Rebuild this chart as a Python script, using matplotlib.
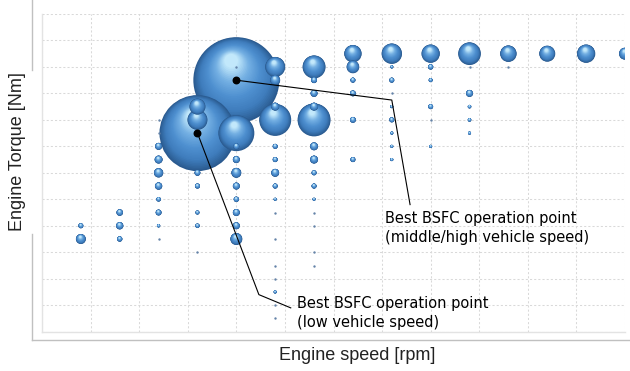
import matplotlib
matplotlib.use("Agg")
import matplotlib.pyplot as plt
import numpy as np
from matplotlib.colors import LinearSegmentedColormap
from matplotlib.lines import Line2D

# engine speed [rpm], engine torque [Nm], operating frequency (bubble area)
speed = [500, 500,
         1000, 1000, 1000,
         1500, 1500, 1500, 1500, 1500, 1500, 1500, 1500, 1500, 1500,
         2000, 2000, 2000, 2000, 2000, 2000, 2000, 2000,
         2500, 2500, 2500, 2500, 2500, 2500, 2500, 2500, 2500, 2500, 2500,
         3000, 3000, 3000, 3000, 3000, 3000, 3000, 3000, 3000, 3000, 3000, 3000, 3000, 3000, 3000, 3000,
         3500, 3500, 3500, 3500, 3500, 3500, 3500, 3500, 3500, 3500, 3500, 3500, 3500, 3500,
         4000, 4000, 4000, 4000, 4000, 4000,
         4500, 4500, 4500, 4500, 4500, 4500, 4500, 4500, 4500,
         5000, 5000, 5000, 5000, 5000, 5000,
         5500, 5500, 5500, 5500, 5500, 5500,
         6000, 6000, 6500, 7000, 7500]
torque = [80, 70,
          90, 80, 70,
          160, 150, 140, 130, 120, 110, 100, 90, 80, 70,
          170, 160, 150, 120, 110, 90, 80, 60,
          200, 190, 150, 140, 130, 120, 110, 100, 90, 80, 70,
          200, 190, 170, 160, 140, 130, 120, 110, 100, 90, 70, 50, 40, 30, 20, 10,
          200, 190, 180, 170, 160, 140, 130, 120, 110, 100, 90, 80, 60, 50,
          210, 200, 190, 180, 160, 130,
          210, 200, 190, 180, 170, 160, 150, 140, 130,
          210, 200, 190, 170, 160, 140,
          210, 200, 180, 170, 160, 150,
          210, 200, 210, 210, 210]
freq = [1.6, 6.2,
        2.7, 3.4, 1.8,
        0.4, 0.4, 3.1, 4.0, 5.5, 3.4, 1.3, 2.2, 0.7, 0.3,
        16, 25, 361, 2.2, 1.6, 1.0, 1.2, 0.3,
        0.4, 462, 81, 2.2, 3.1, 6.2, 3.1, 1.8, 3.1, 3.1, 9.0,
        25, 6.2, 4.0, 64, 1.6, 1.6, 4.0, 1.6, 0.6, 0.3, 0.3, 0.3, 0.3, 0.6, 0.3, 0.3,
        33, 2.2, 3.1, 4.0, 68, 4.0, 4.0, 1.6, 1.6, 0.6, 0.3, 0.3, 0.3, 0.3,
        19, 10, 1.6, 2.2, 2.2, 1.6,
        26, 0.6, 1.6, 0.3, 0.6, 1.6, 0.6, 0.6, 0.6,
        21, 1.8, 1.0, 1.6, 0.3, 0.6,
        32, 0.3, 3.1, 0.8, 0.8, 0.6,
        17, 0.3, 16, 21, 9]

best_speed = [2000, 2500]
best_torque = [150, 190]

fig = plt.figure(figsize=(6.3, 3.71), dpi=100)
ax = fig.add_axes([42 / 630, 1 - 331.7 / 371, 583 / 630, 317.7 / 371])
ax.set_xlim(0, 7500)
ax.set_ylim(0, 240)
ax.set_xticks(np.arange(0, 7501, 625))
ax.set_yticks(np.arange(0, 241, 20))
ax.tick_params(length=0, labelbottom=False, labelleft=False)
ax.grid(True, color="#d9d9d9", linestyle=(0, (2, 2)), linewidth=0.75)
ax.set_axisbelow(True)
for side in ["top", "right"]:
    ax.spines[side].set_visible(False)
for side in ["left", "bottom"]:
    ax.spines[side].set_color("#e3e3e3")
    ax.spines[side].set_linewidth(1.0)

# sphere shading
cmap = LinearSegmentedColormap.from_list(
    "sphere", ["#2a5a8f", "#3f7dbd", "#4f90d0", "#74b0e3", "#c2e8fb"])
px_per_x = ax.transData.transform((1, 0))[0] - ax.transData.transform((0, 0))[0]
px_per_y = ax.transData.transform((0, 1))[1] - ax.transData.transform((0, 0))[1]

def sphere(x, y, r):
    if r < 1.3:
        ax.scatter([x], [y], s=(2 * 1.2 * 0.72) ** 2, color="#6483a8", lw=0, zorder=3)
        return
    n = 32
    t = np.linspace(0, 1, n)
    rr = r * (1 - 0.84 * t)
    xs = x + (-0.12 * r * t) / px_per_x
    ys = y + (0.45 * r * t) / px_per_y
    ax.scatter(xs, ys, s=(2 * rr * 0.72) ** 2, c=cmap(t ** 0.9), lw=0, zorder=3)

order = np.argsort(freq)[::-1]
for i in order:
    sphere(speed[i], torque[i], 2 * np.sqrt(freq[i]))

ax.scatter(best_speed, best_torque, s=22, color="black", zorder=5)

# leader lines
ax.plot([best_speed[1], 4500, 4735], [best_torque[1], 175, 96],
        color="black", lw=0.8, zorder=6, clip_on=False)
ax.plot([best_speed[0], 2790, 3200], [best_torque[0], 28, 18],
        color="black", lw=0.8, zorder=6, clip_on=False)

fig.text(385 / 630, 1 - 228 / 371, "Best BSFC operation point\n(middle/high vehicle speed)",
         fontsize=10.5, va="center", ha="left", linespacing=1.3, family="DejaVu Sans")
fig.text(297 / 630, 1 - 313 / 371, "Best BSFC operation point\n(low vehicle speed)",
         fontsize=10.5, va="center", ha="left", linespacing=1.3, family="DejaVu Sans")

fig.text(357 / 630, 1 - 356 / 371, "Engine speed [rpm]", fontsize=13,
         ha="center", va="center", family="Liberation Sans", color="#222222")
fig.text(18 / 630, 1 - 152 / 371, "Engine Torque [Nm]", fontsize=13, rotation=90,
         ha="center", va="center", family="Liberation Sans", color="#222222")

# outer chart frame
fig.add_artist(Line2D([32 / 630, 32 / 630], [1, 1 - 70 / 371], color="#c0c0c0", lw=1))
fig.add_artist(Line2D([32 / 630, 32 / 630], [1 - 234 / 371, 1 - 340 / 371], color="#c0c0c0", lw=1))
fig.add_artist(Line2D([32 / 630, 1], [1 - 340 / 371, 1 - 340 / 371], color="#c0c0c0", lw=1))

fig.savefig("out.png", dpi=100)
